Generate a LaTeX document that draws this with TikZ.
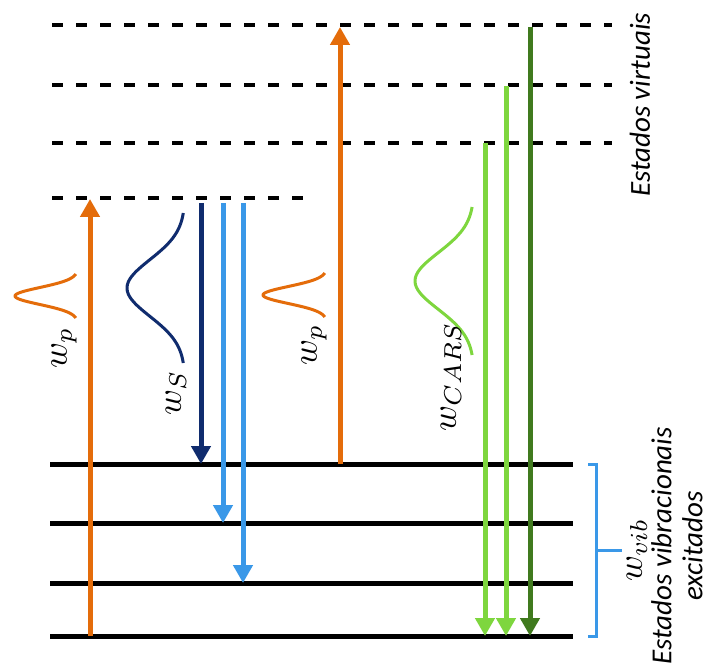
\documentclass[tikz,border=0pt]{standalone}
\usepackage{fontspec}
\setmainfont{Carlito}
\usetikzlibrary{arrows.meta}
\definecolor{orng}{RGB}{228,108,10}
\definecolor{navy}{RGB}{16,44,110}
\definecolor{lblue}{RGB}{58,152,232}
\definecolor{lgreen}{RGB}{126,214,62}
\definecolor{dgreen}{RGB}{64,122,30}
\begin{document}
\begin{tikzpicture}[x=1pt,y=-1pt,
  level/.style={line width=5pt, black},
  virt/.style={line width=3.5pt, black, dash pattern=on 11pt off 13pt},
  beam/.style={line width=5pt, -{Triangle[width=19pt,length=18pt]}},
  pulse/.style={line width=3pt, smooth},
  lab/.style={rotate=90, inner sep=0pt, scale=3.5, font=\fontsize{10}{12}\selectfont},
  txt/.style={rotate=90, inner sep=0pt, align=center, font=\fontsize{29}{31}\selectfont\itshape}]
\useasboundingbox (0,0) rectangle (715,668);
% level end points
\foreach \n/\y in {V1/25,V2/85,V3/143} {
  \coordinate (\n a) at (52,\y); \coordinate (\n b) at (612,\y);
}
\coordinate (V4a) at (52,198); \coordinate (V4b) at (303,198);
\foreach \n/\y in {L1/464,L2/523,L3/583,L4/636} {
  \coordinate (\n a) at (50,\y); \coordinate (\n b) at (573,\y);
}
% virtual states
\draw[virt] (V1a) -- (V1b);
\draw[virt] (V2a) -- (V2b);
\draw[virt] (V3a) -- (V3b);
\draw[virt] (V4a) -- (V4b);
% vibrational levels
\draw[level] (L1a) -- (L1b);
\draw[level] (L2a) -- (L2b);
\draw[level] (L3a) -- (L3b);
\draw[level] (L4a) -- (L4b);
% arrow end points
\coordinate (p1s) at (90,636);  \coordinate (p1e) at (90,199);
\coordinate (ss)  at (201,203); \coordinate (se)  at (201,464);
\coordinate (b1s) at (223,203); \coordinate (b1e) at (223,523);
\coordinate (b2s) at (243,203); \coordinate (b2e) at (243,583);
\coordinate (p2s) at (340,464); \coordinate (p2e) at (340,27);
\coordinate (g1s) at (485,143); \coordinate (g1e) at (485,636);
\coordinate (g2s) at (506,86);  \coordinate (g2e) at (506,636);
\coordinate (g3s) at (530,27);  \coordinate (g3e) at (530,636);
% arrows
\draw[beam, orng] (p1s) -- (p1e);
\draw[beam, navy] (ss) -- (se);
\draw[beam, lblue] (b1s) -- (b1e);
\draw[beam, lblue] (b2s) -- (b2e);
\draw[beam, orng] (p2s) -- (p2e);
\draw[beam, lgreen] (g1s) -- (g1e);
\draw[beam, lgreen] (g2s) -- (g2e);
\draw[beam, dgreen] (g3s) -- (g3e);
% pulses
\draw[pulse, orng] plot[domain=-22:22, samples=50] ({78-63*exp(-(\x/12)*(\x/12))}, {296+\x});
\draw[pulse, orng] plot[domain=-22:22, samples=50] ({327-64*exp(-(\x/12)*(\x/12))}, {295+\x});
\draw[pulse, navy] plot[domain=-75:75, samples=60] ({185-58*exp(-(\x/40)*(\x/40))}, {288+\x});
\draw[pulse, lgreen] plot[domain=-74:74, samples=60] ({474-59*exp(-(\x/40)*(\x/40))}, {281+\x});
% labels
\node[lab] (wp1) at (64,348) {$w_p$};
\node[lab] (ws) at (176,393) {$w_S$};
\node[lab] (wp2) at (314,345) {$w_p$};
\node[lab] (wc) at (451,377) {$w_{CARS}$};
% bracket
\coordinate (bt) at (588,464); \coordinate (btr) at (596,464);
\coordinate (bb) at (588,636); \coordinate (bbr) at (596,636);
\coordinate (bm) at (596,550); \coordinate (bmt) at (622,550);
\draw[lblue, line width=3pt] (bt) -- (btr) -- (bbr) -- (bb);
\draw[lblue, line width=3pt] (bm) -- (bmt);
\node[lab] (wv) at (637,550) {$w_{vib}$};
\node[txt] (evib) at (677,546) {Estados vibracionais\\excitados};
\node[txt] (evir) at (640,105) {Estados virtuais};
\end{tikzpicture}
\end{document}
